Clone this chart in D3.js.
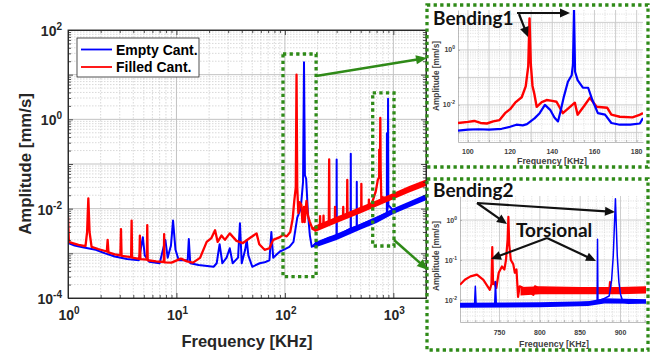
<!DOCTYPE html>
<html><head><meta charset="utf-8">
<script src="https://cdn.jsdelivr.net/npm/d3@7/dist/d3.min.js"></script>
<style>html,body{margin:0;padding:0;background:#fff;} svg{display:block;}</style>
</head><body>
<svg id="chart" width="656" height="358"></svg>
<script>
// ===== Main spectrum =====
const emptyFreq = [1.0,1.15,1.4,1.8,2.2,2.7,3.5,4.5,4.9,5.1,5.6,7.0,7.9,8.3,8.9,9.3,9.8,10.5,12.7,13.0,13.4,16,22,23.5,25,26.5,29,31,33,37,38.5,40,43,44.5,46,50,58.6,65,72,75,78,90,97,110,120,130,140,147,150,153,157,163,170,177,190,250,299,300,301,350,404,405,406,459,460,461,600,800,871,872,873,888,894,900,1000,1200,1500,2000];
const emptyAmp = [1.7e-3,1.5e-3,1.35e-3,1.2e-3,1.0e-3,8.5e-4,7.5e-4,7e-4,2.3e-3,9e-4,6.5e-4,6e-4,2.0e-3,8e-4,1.5e-3,5.4e-3,1.2e-3,7e-4,7e-4,2.1e-3,6e-4,5.5e-4,5e-4,6e-4,1.6e-3,6e-4,8e-4,1.3e-3,6e-4,8e-4,4.7e-3,6e-4,1.2e-3,2.0e-3,9e-4,5e-4,6e-4,6.3e-4,7e-4,3.0e-3,8e-4,1.1e-3,1.2e-3,1.4e-3,1.8e-3,6.3e-3,1.0e-2,4e-2,19,5.6e-2,4.7e-2,8e-3,2.5e-3,1.4e-3,1.6e-3,2.2e-3,2.4e-3,0.126,2.4e-3,3e-3,3.6e-3,0.17,3.6e-3,4.0e-3,4e-2,4.0e-3,5.3e-3,7.2e-3,7.8e-3,0.49,8e-3,1.1e-2,2.9,1.2e-2,9.0e-3,1.1e-2,1.4e-2,1.8e-2];
const filledFreq = [1.0,1.02,1.1,1.25,1.45,1.5,1.54,1.58,1.65,1.9,2.28,2.32,2.36,2.7,3.04,3.08,3.12,3.82,3.86,3.9,4.55,4.6,4.65,5.33,5.38,5.43,6.5,7.65,7.7,7.75,9.0,11,12.5,14.2,16.5,19,21,22.7,24,26,28,31,35.8,41,47.5,54.8,58,65,72,78,90,96,104,112,118,122,126,128,130,133,137,142,145,150,152,158,163,170,180,195,210,211,212,226,227,228,254,256,258,289,290,291,344,345,346,374,376,378,505,507,509,593,595,597,640,690,720,740,741,742,752,758,764,775,800,900,1000,1200,1500,2000];
const filledAmp = [6.6e-3,1.8e-3,1.7e-3,1.55e-3,1.45e-3,3.0e-3,1.7e-2,3.0e-3,1.4e-3,1.25e-3,1.1e-3,2.0e-3,1.05e-3,9.5e-4,9e-4,3.5e-3,8.8e-4,8.2e-4,5.4e-3,8e-4,7.5e-4,2.5e-3,7.4e-4,7.2e-4,4.3e-3,7e-4,6.6e-4,6.4e-4,2.7e-3,6.3e-4,6.2e-4,7.6e-4,6.6e-4,6.2e-4,7.9e-4,1.8e-3,2.2e-3,3.3e-3,1.8e-3,2.5e-3,2.0e-3,2.8e-3,1.9e-3,1.7e-3,2.2e-3,2.8e-3,1.6e-3,1.2e-3,1.3e-3,2.0e-3,2.3e-3,2.6e-3,2.4e-3,3e-3,6e-3,1.5e-2,3e-2,10,3e-2,8e-3,1.4e-2,1.2e-2,5e-3,1.1e-2,5e-3,1.5e-2,7e-3,5e-3,3.5e-3,3.6e-3,4.0e-3,6.8e-3,4.0e-3,4.3e-3,7e-3,4.3e-3,4.7e-3,0.126,4.8e-3,5.5e-3,1.1e-2,5.5e-3,6.5e-3,1.1e-2,6.5e-3,7e-3,4.4e-2,7e-3,9.3e-3,3.6e-2,9.3e-3,1.1e-2,1.6e-2,1.1e-2,1.4e-2,2.5e-2,4.5e-2,5e-2,0.21,5e-2,7e-2,1.07,7e-2,1.5e-2,1.8e-2,1.7e-2,1.9e-2,2.3e-2,2.9e-2,3.9e-2];
// noise envelope of the high-frequency part
const filledBandFreq = [176,190,300,500,700,1000,1400,2000];
const filledBandLo = [3.5e-3,3.0e-3,4.8e-3,7.9e-3,1.12e-2,1.62e-2,2.3e-2,3.2e-2];
const filledBandHi = [3.5e-3,4.2e-3,6.6e-3,1.1e-2,1.55e-2,2.24e-2,3.2e-2,4.5e-2];
const emptyBandFreq = [176,190,300,500,700,1000,1400,2000];
const emptyBandLo = [1.4e-3,1.35e-3,2.0e-3,3.4e-3,4.8e-3,7.6e-3,1.07e-2,1.55e-2];
const emptyBandHi = [1.4e-3,1.8e-3,2.75e-3,4.6e-3,6.5e-3,1.02e-2,1.45e-2,2.1e-2];
const mainXTicks = [1,10,100,1000];
const mainYTicks = [1e-4,1e-2,1,100];
const seriesNames = ["Empty Cant.","Filled Cant."];
// highlighted regions
const box1Freq = [96,194], box1Amp = [3e-4,29];
const box2Freq = [645,1014], box2Amp = [1.46e-3,3.9];

// ===== Inset 1: Bending1 =====
const bend1EmptyFreq = [95.3,100,105,110,116,120,123,126,128,131.7,134,136.5,139,141,142.7,144,145.5,147.4,149.2,149.8,150.3,150.8,152,154.5,157,159,161.6,165,168,172,177,181.5,183];
const bend1EmptyAmp = [1.15e-3,1.25e-3,1.3e-3,1.25e-3,1.35e-3,1.6e-3,1.9e-3,1.8e-3,2.0e-3,3.3e-3,5e-3,1e-2,6.6e-3,3.5e-3,2.5e-3,6.3e-3,2e-2,6.9e-2,0.12,0.3,28,0.16,0.079,0.042,0.042,0.015,5e-3,4.4e-3,2.2e-3,1.9e-3,1.9e-3,2.1e-3,3.3e-3];
const bend1FilledFreq = [95.3,100,103,106,109,112,115,117.6,120,122.4,125.5,127.4,128.6,129.2,129.8,130.6,131.5,132.6,135,137.3,140,142,145,148,150.7,152,155,157.8,161,166,168,172,178,181,183];
const bend1FilledAmp = [2.2e-3,2.4e-3,2.6e-3,2.2e-3,2.1e-3,2.5e-3,2.8e-3,5e-3,7e-3,1.2e-2,1.9e-2,4.7e-2,0.25,14,0.32,5e-2,2.5e-2,8.5e-3,1.25e-2,1.5e-2,1.4e-2,1.3e-2,5e-3,8e-3,1.2e-2,4.4e-3,8.9e-3,1.8e-2,8.5e-3,7.9e-3,4.4e-3,3.7e-3,3.5e-3,4.2e-3,5e-3];
const bend1XTicks = [100,120,140,160,180];
const bend1YTicks = [1,1e-2];

// ===== Inset 2: Bending2 / Torsional =====
const bend2FilledFreq = [701,707,714,722,730,734,738,740,741,742,743,746,749,753,756,758,760,761,762,764,767,769,771,773,775,784,792,794,800,820,850,870,886,887,888,900,932];
const bend2FilledAmp = [0.024,0.032,0.039,0.043,0.032,0.024,0.018,0.025,0.21,0.025,0.028,0.02,0.048,0.069,0.058,0.10,0.32,1.2,0.25,0.10,0.079,0.048,0.058,0.012,0.022,0.018,0.0135,0.022,0.019,0.018,0.0174,0.0166,0.0166,0.028,0.0166,0.0166,0.017];
const bend2EmptyFreq = [701,719,720,721,744,745,746,800,850,866,871,871.5,872,880,886,889,891,893.7,896,898,900,903,910,932];
const bend2EmptyAmp = [7.4e-3,7.6e-3,2.2e-2,7.6e-3,7.9e-3,2.9e-2,7.9e-3,7.9e-3,8.5e-3,9.1e-3,9.1e-3,0.33,9.5e-3,1.1e-2,1.26e-2,3.2e-2,0.126,3.4,0.126,2.8e-2,1.4e-2,8.9e-3,8.3e-3,8.9e-3];
const bend2FilledBandFreq = [776,800,850,900,932];
const bend2FilledBandLo = [1.3e-2,1.4e-2,1.4e-2,1.4e-2,1.45e-2];
const bend2FilledBandHi = [2.1e-2,2.2e-2,2.1e-2,2.1e-2,2.2e-2];
const bend2EmptyBandFreq = [701,800,860,880,932];
const bend2EmptyBandLo = [6.4e-3,6.6e-3,7.1e-3,8.2e-3,8.1e-3];
const bend2EmptyBandHi = [8.5e-3,8.8e-3,9.3e-3,1.1e-2,1.05e-2];
const bend2XTicks = [750,800,850,900];
const bend2YTicks = [1,0.1,0.01];

// ===== drawing =====
const svg = d3.select("#chart");
const SANS = "'Liberation Sans', Arial, Helvetica, sans-serif";
const BLUE = "#0000ff", RED = "#ff0000", GREEN = "#2f8a18", AXIS = "#262626", INK = "#404040";
svg.append("rect").attr("width",656).attr("height",358).attr("fill","#fff");
const defs = svg.append("defs");
function clip(id,x0,y0,x1,y1){
  defs.append("clipPath").attr("id",id).append("rect")
    .attr("x",x0).attr("y",y0).attr("width",x1-x0).attr("height",y1-y0);
}
function pow10(g,px,py,exp,size,sup,anchor,fill){
  const t = g.append("text").attr("x",px).attr("y",py).attr("text-anchor",anchor)
    .attr("font-family",SANS).attr("font-weight","bold").attr("font-size",size).attr("fill",fill);
  t.append("tspan").text("10");
  t.append("tspan").attr("dy",-size*0.42).attr("font-size",sup).text(exp);
}
function arrow(g,x1,y1,x2,y2,color,w,hl,hw){
  const a = Math.atan2(y2-y1,x2-x1), c = Math.cos(a), s = Math.sin(a);
  const bx = x2-hl*c, by = y2-hl*s;
  g.append("line").attr("x1",x1).attr("y1",y1).attr("x2",bx+c).attr("y2",by+s)
    .attr("stroke",color).attr("stroke-width",w);
  g.append("path").attr("d",`M${x2},${y2}L${bx-hw/2*s},${by+hw/2*c}L${bx+hw/2*s},${by-hw/2*c}Z`).attr("fill",color);
}
function logMinors(e0,e1,lo,hi){
  const out=[];
  for(let e=e0;e<=e1;e++) for(let m=2;m<=9;m++){const v=m*Math.pow(10,e); if(v>lo&&v<hi) out.push(v);}
  return out;
}
function expOf(v){ return String(Math.round(Math.log10(v))); }

// ---------- main axes ----------
const X0=68, X1=426, Y0=30, Y1=298;
const mx = d3.scaleLog().domain([1,2000]).range([X0,X1]);
const my = d3.scaleLog().domain([1e-4,1e2]).range([Y1,Y0]);
clip("clipMain",X0,Y0,X1,Y1);
const main = svg.append("g");
const minorX = logMinors(0,3,1,2000), minorY = logMinors(-4,1,1e-4,1e2);
const decadesY = [1e-4,1e-3,1e-2,1e-1,1,10,100];
const grid = main.append("g");
grid.selectAll(".mnx").data(minorX).join("line").attr("x1",d=>mx(d)).attr("x2",d=>mx(d)).attr("y1",Y0).attr("y2",Y1)
  .attr("stroke","#cfcfcf").attr("stroke-width",0.8).attr("stroke-dasharray","1.5,1.5");
grid.selectAll(".mny").data(minorY).join("line").attr("y1",d=>my(d)).attr("y2",d=>my(d)).attr("x1",X0).attr("x2",X1)
  .attr("stroke","#cfcfcf").attr("stroke-width",0.8).attr("stroke-dasharray","1.5,1.5");
grid.selectAll(".mjx").data(mainXTicks.slice(1)).join("line").attr("x1",d=>mx(d)).attr("x2",d=>mx(d)).attr("y1",Y0).attr("y2",Y1)
  .attr("stroke","#c2c2c2").attr("stroke-width",1);
grid.selectAll(".mjy").data(decadesY.slice(1,-1)).join("line").attr("y1",d=>my(d)).attr("y2",d=>my(d)).attr("x1",X0).attr("x2",X1)
  .attr("stroke","#c2c2c2").attr("stroke-width",1);

const lineMain = d3.line().x(d=>mx(d[0])).y(d=>my(d[1]));
const areaMain = d3.area().x(d=>mx(d[0])).y0(d=>my(d[1])).y1(d=>my(d[2]));
const plot = main.append("g").attr("clip-path","url(#clipMain)");
plot.append("path").datum(d3.zip(emptyBandFreq,emptyBandLo,emptyBandHi)).attr("d",areaMain).attr("fill",BLUE);
plot.append("path").datum(d3.zip(emptyFreq,emptyAmp)).attr("d",lineMain).attr("fill","none").attr("stroke",BLUE).attr("stroke-width",2).attr("stroke-linejoin","round");
plot.append("path").datum(d3.zip(filledBandFreq,filledBandLo,filledBandHi)).attr("d",areaMain).attr("fill",RED);
plot.append("path").datum(d3.zip(filledFreq,filledAmp)).attr("d",lineMain).attr("fill","none").attr("stroke",RED).attr("stroke-width",2.3).attr("stroke-linejoin","round");

// axes with inward ticks
const axG = main.append("g");
axG.append("g").attr("transform",`translate(0,${Y1})`).call(d3.axisBottom(mx).tickValues(mainXTicks).tickSize(-5).tickSizeOuter(0).tickFormat(""));
axG.append("g").attr("transform",`translate(0,${Y1})`).call(d3.axisBottom(mx).tickValues(minorX).tickSize(-3).tickSizeOuter(0).tickFormat(""));
axG.append("g").attr("transform",`translate(0,${Y0})`).call(d3.axisTop(mx).tickValues(mainXTicks).tickSize(-5).tickSizeOuter(0).tickFormat(""));
axG.append("g").attr("transform",`translate(0,${Y0})`).call(d3.axisTop(mx).tickValues(minorX).tickSize(-3).tickSizeOuter(0).tickFormat(""));
axG.append("g").attr("transform",`translate(${X0},0)`).call(d3.axisLeft(my).tickValues(decadesY).tickSize(-5).tickSizeOuter(0).tickFormat(""));
axG.append("g").attr("transform",`translate(${X0},0)`).call(d3.axisLeft(my).tickValues(minorY).tickSize(-3).tickSizeOuter(0).tickFormat(""));
axG.append("g").attr("transform",`translate(${X1},0)`).call(d3.axisRight(my).tickValues(decadesY).tickSize(-5).tickSizeOuter(0).tickFormat(""));
axG.append("g").attr("transform",`translate(${X1},0)`).call(d3.axisRight(my).tickValues(minorY).tickSize(-3).tickSizeOuter(0).tickFormat(""));
axG.selectAll("line,path").attr("stroke",AXIS).attr("stroke-width",0.8);
main.append("rect").attr("x",X0).attr("y",Y0).attr("width",X1-X0).attr("height",Y1-Y0).attr("fill","none").attr("stroke",AXIS).attr("stroke-width",0.9);

mainXTicks.forEach(v=>pow10(main,mx(v)+1,320,expOf(v),14,10,"middle",AXIS));
mainYTicks.forEach(v=>pow10(main,62,my(v)+6,expOf(v),14,10,"end",AXIS));
main.append("text").attr("x",247).attr("y",347).attr("text-anchor","middle").attr("font-family",SANS)
  .attr("font-weight","bold").attr("font-size",16.5).attr("fill",AXIS).text("Frequency [KHz]");
main.append("text").attr("transform","translate(31,164) rotate(-90)").attr("text-anchor","middle").attr("font-family",SANS)
  .attr("font-weight","bold").attr("font-size",16.8).attr("fill",AXIS).text("Amplitude [mm/s]");

// legend
const leg = main.append("g");
leg.append("rect").attr("x",77).attr("y",38).attr("width",122).attr("height",39).attr("fill","#fff").attr("stroke",AXIS).attr("stroke-width",0.8);
[BLUE,RED].forEach((col,i)=>{
  const ly = 49.5 + i*17.5;
  leg.append("line").attr("x1",81).attr("x2",112).attr("y1",ly).attr("y2",ly).attr("stroke",col).attr("stroke-width",1.8);
  leg.append("text").attr("x",116).attr("y",ly+5.3).attr("font-family",SANS).attr("font-weight","bold")
    .attr("font-size",14).attr("fill","#000").text(seriesNames[i]);
});

// highlighted regions + connectors
const ann = svg.append("g");
[[box1Freq,box1Amp],[box2Freq,box2Amp]].forEach(([f,a])=>{
  ann.append("rect").attr("x",mx(f[0])).attr("y",my(a[1])).attr("width",mx(f[1])-mx(f[0])).attr("height",my(a[0])-my(a[1]))
    .attr("fill","none").attr("stroke",GREEN).attr("stroke-width",3.3).attr("stroke-dasharray","3.3,3.3");
});
arrow(ann,mx(box1Freq[1]),76,427,58,GREEN,2.5,11,9);
arrow(ann,mx(box2Freq[1]),240,428,270,GREEN,2.5,11,9);

// ---------- insets ----------
function inset(cfg){
  const g = svg.append("g");
  const sx = d3.scaleLinear().domain(cfg.xDom).range([cfg.x0,cfg.x1]);
  const sy = d3.scaleLog().domain(cfg.yDom).range([cfg.y1,cfg.y0]);
  clip(cfg.id,cfg.x0,cfg.y0,cfg.x1,cfg.y1);
  g.selectAll(".a").data(cfg.xMinor).join("line").attr("x1",d=>sx(d)).attr("x2",d=>sx(d)).attr("y1",cfg.y0).attr("y2",cfg.y1)
    .attr("stroke","#d6d6d6").attr("stroke-width",0.7).attr("stroke-dasharray","1.2,1.2");
  g.selectAll(".b").data(cfg.yMinor).join("line").attr("y1",d=>sy(d)).attr("y2",d=>sy(d)).attr("x1",cfg.x0).attr("x2",cfg.x1)
    .attr("stroke","#d6d6d6").attr("stroke-width",0.7).attr("stroke-dasharray","1.2,1.2");
  g.selectAll(".c").data(cfg.xMajor).join("line").attr("x1",d=>sx(d)).attr("x2",d=>sx(d)).attr("y1",cfg.y0).attr("y2",cfg.y1)
    .attr("stroke","#c8c8c8").attr("stroke-width",0.9);
  g.selectAll(".d").data(cfg.yMajor).join("line").attr("y1",d=>sy(d)).attr("y2",d=>sy(d)).attr("x1",cfg.x0).attr("x2",cfg.x1)
    .attr("stroke","#c8c8c8").attr("stroke-width",0.9);
  const ax = g.append("g");
  ax.append("g").attr("transform",`translate(0,${cfg.y1})`).call(d3.axisBottom(sx).tickValues(cfg.xMajor.concat(cfg.xMinor)).tickSize(-2).tickSizeOuter(0).tickFormat(""));
  ax.append("g").attr("transform",`translate(${cfg.x0},0)`).call(d3.axisLeft(sy).tickValues(cfg.yMajor).tickSize(-2).tickSizeOuter(0).tickFormat(""));
  ax.selectAll("line,path").attr("stroke","#a0a0a0").attr("stroke-width",0.7);
  const ln = d3.line().x(d=>sx(d[0])).y(d=>sy(d[1]));
  const ar = d3.area().x(d=>sx(d[0])).y0(d=>sy(d[1])).y1(d=>sy(d[2]));
  const p = g.append("g").attr("clip-path",`url(#${cfg.id})`);
  cfg.series.forEach(s=>{
    if(s.band) p.append("path").datum(s.band).attr("d",ar).attr("fill",s.color);
    p.append("path").datum(s.pts).attr("d",ln).attr("fill","none").attr("stroke",s.color).attr("stroke-width",s.w).attr("stroke-linejoin","round");
  });
  cfg.xTicks.forEach(v=>g.append("text").attr("x",sx(v)).attr("y",cfg.xLabY).attr("text-anchor","middle").attr("font-family",SANS)
    .attr("font-weight","bold").attr("font-size",7).attr("fill",INK).text(v));
  cfg.yTicks.forEach(v=>pow10(g,cfg.x0-3,sy(v)+2.5,expOf(v),7,5,"end",INK));
  g.append("text").attr("x",cfg.xTitle[0]).attr("y",cfg.xTitle[1]).attr("text-anchor","middle").attr("font-family",SANS)
    .attr("font-weight","bold").attr("font-size",8.8).attr("fill",INK).text("Frequency [KHz]");
  g.append("text").attr("transform",`translate(${cfg.yTitle[0]},${cfg.yTitle[1]}) rotate(-90)`).attr("text-anchor","middle").attr("font-family",SANS)
    .attr("font-weight","bold").attr("font-size",8.3).attr("fill",INK).text("Amplitude [mm/s]");
  g.append("rect").attr("x",cfg.box[0]).attr("y",cfg.box[1]).attr("width",cfg.box[2]).attr("height",cfg.box[3])
    .attr("fill","none").attr("stroke",GREEN).attr("stroke-width",3.3).attr("stroke-dasharray","3.3,3.3");
  return g;
}

inset({
  id:"clipIn1", x0:458, x1:643, y0:10, y1:142,
  xDom:[95.3,183], yDom:[Math.pow(10,-3.35),Math.pow(10,1.45)],
  xMajor:d3.range(100,181,10), xMinor:d3.range(105,181,10),
  yMajor:[1e-3,1e-2,1e-1,1,10], yMinor:logMinors(-4,1,Math.pow(10,-3.35),Math.pow(10,1.45)),
  xTicks:bend1XTicks, yTicks:bend1YTicks, xLabY:154,
  xTitle:[552,164], yTitle:[439,76], box:[427,5,221,162],
  series:[
    {pts:d3.zip(bend1FilledFreq,bend1FilledAmp), color:RED, w:2.4},
    {pts:d3.zip(bend1EmptyFreq,bend1EmptyAmp), color:BLUE, w:2.2}
  ]
});
inset({
  id:"clipIn2", x0:460, x1:646, y0:196, y1:322,
  xDom:[701,931.6], yDom:[Math.pow(10,-2.55),Math.pow(10,0.6)],
  xMajor:[750,800,850,900], xMinor:d3.range(710,931,10).filter(v=>v%50!==0),
  yMajor:[1e-2,1e-1,1], yMinor:logMinors(-3,0,Math.pow(10,-2.55),Math.pow(10,0.6)),
  xTicks:bend2XTicks, yTicks:bend2YTicks, xLabY:335,
  xTitle:[554,347], yTitle:[439,256], box:[427,179,221,171],
  series:[
    {pts:d3.zip(bend2FilledFreq,bend2FilledAmp), band:d3.zip(bend2FilledBandFreq,bend2FilledBandLo,bend2FilledBandHi), color:RED, w:2.2},
    {pts:d3.zip(bend2EmptyFreq,bend2EmptyAmp), band:d3.zip(bend2EmptyBandFreq,bend2EmptyBandLo,bend2EmptyBandHi), color:BLUE, w:1.5}
  ]
});

// inset annotations
const note = svg.append("g");
const NOTE = "Lato, 'Open Sans', sans-serif";
note.append("text").attr("x",433).attr("y",25).attr("font-family",NOTE).attr("font-weight","bold").attr("font-size",19).attr("fill","#111").text("Bending1");
note.append("text").attr("x",433).attr("y",197).attr("font-family",NOTE).attr("font-weight","bold").attr("font-size",19).attr("fill","#111").text("Bending2");
note.append("text").attr("x",516).attr("y",237).attr("font-family",NOTE).attr("font-weight","bold").attr("font-size",19).attr("fill","#111").text("Torsional");
arrow(note,517,13,570,13,"#111",2.2,10,9);
arrow(note,519,14,528,37,"#111",2.2,10,9);
arrow(note,477,203,507,224,"#111",2.2,10,9);
arrow(note,477,203,615,212,"#111",2.2,10,9);
arrow(note,547,238,491,259,"#111",2.2,10,9);
arrow(note,547,238,596,261,"#111",2.2,10,9);
</script>
</body></html>
